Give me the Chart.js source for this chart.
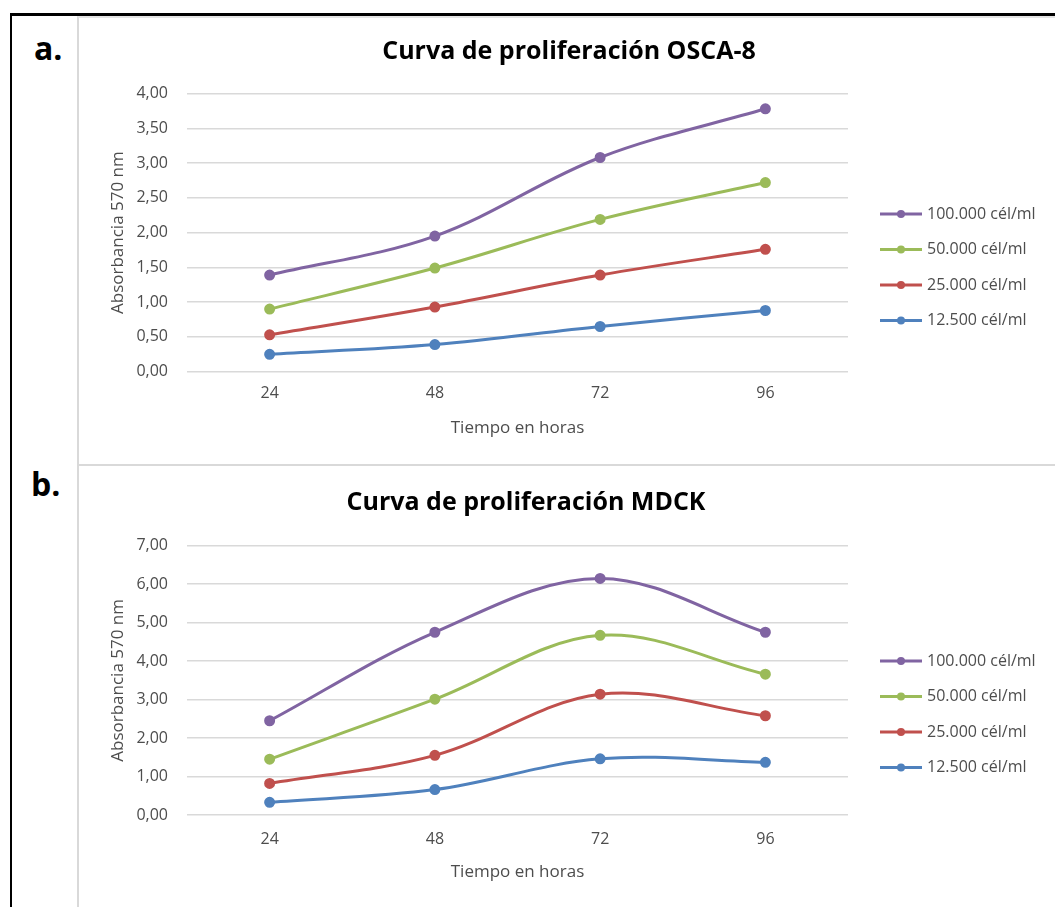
<!DOCTYPE html>
<html>
<head>
<meta charset="utf-8">
<script src="https://cdn.jsdelivr.net/npm/chart.js@4.4.0/dist/chart.umd.min.js"></script>
<style>
  html, body { margin:0; padding:0; background:#fff; }
  body { width:1055px; height:907px; position:relative; overflow:hidden; font-family: "Open Sans", sans-serif; }
  #frame { position:absolute; left:10px; top:13px; width:1100px; height:1000px; border-left:2px solid #000; border-top:3px solid #000; }
  #inner { position:absolute; left:77px; top:16px; width:1000px; height:1000px; border-left:2px solid #d9d9d9; border-top:2px solid #e4e4e4; }
  #sep { position:absolute; left:77px; top:464px; width:1000px; height:0; border-top:2px solid #d9d9d9; }
  .lbl { position:absolute; font-weight:bold; font-size:32px; color:#000; line-height:normal; }
  .box { position:absolute; left:79px; width:976px; }
  #boxA { top:18px; height:446px; }
  #boxB { top:466px; height:441px; }
</style>
</head>
<body>
<div id="frame"></div>
<div id="inner"></div>
<div id="sep"></div>
<div class="lbl" style="left:34px; top:26px;">a.</div>
<div class="lbl" style="left:31px; top:462px;">b.</div>
<div class="box" id="boxA"><canvas id="graphicFirst"></canvas></div>
<div class="box" id="boxB"><canvas id="graphicSecond"></canvas></div>
<script>
// Curvas de proliferacion - absorbancia 570 nm

const horas = ['24', '48', '72', '96'];
const series = ['100.000 cél/ml', '50.000 cél/ml', '25.000 cél/ml', '12.500 cél/ml'];
const colores = ['#8064A2', '#9BBB59', '#C0504D', '#4F81BD'];

// OSCA-8
const osca100 = [1.39, 1.95, 3.08, 3.78];
const osca50  = [0.90, 1.49, 2.19, 2.72];
const osca25  = [0.53, 0.93, 1.39, 1.76];
const osca12  = [0.25, 0.39, 0.65, 0.88];

// MDCK
const mdck100 = [2.45, 4.75, 6.15, 4.75];
const mdck50  = [1.45, 3.01, 4.67, 3.66];
const mdck25  = [0.82, 1.55, 3.14, 2.58];
const mdck12  = [0.33, 0.66, 1.46, 1.37];

const FONT = '"Open Sans", sans-serif';
const GRIS = '#4d4d4d';

function buildDatasets(valores){
  return valores.map(function(v, i){
    return {
      label: series[i],
      data: v,
      borderColor: colores[i],
      backgroundColor: colores[i],
      borderWidth: 3,
      pointRadius: 4,
      pointHoverRadius: 4,
      tension: 0.35,
      fill: false
    };
  });
}

// titulo y leyenda a la derecha (linea con punto como en Excel)
const excelPlugin = {
  id: 'excelLegend',
  afterDraw(chart, args, opts){
    const ctx = chart.ctx;
    ctx.save();
    ctx.fillStyle = '#000';
    ctx.font = 'bold 25px ' + FONT;
    ctx.textAlign = 'center';
    ctx.textBaseline = 'middle';
    ctx.fillText(opts.title, opts.titleX, opts.titleY);

    ctx.textAlign = 'left';
    chart.data.datasets.forEach(function(ds, i){
      const y = opts.top + i * opts.step;
      ctx.strokeStyle = ds.borderColor;
      ctx.lineWidth = 3;
      ctx.beginPath();
      ctx.moveTo(opts.left, y);
      ctx.lineTo(opts.left + 42, y);
      ctx.stroke();
      ctx.fillStyle = ds.borderColor;
      ctx.beginPath();
      ctx.arc(opts.left + 21, y, 4, 0, Math.PI * 2);
      ctx.fill();
      ctx.fillStyle = GRIS;
      ctx.font = '16px ' + FONT;
      ctx.fillText(ds.label, opts.left + 47, y);
    });
    ctx.restore();
  }
};

function drawElement(id, titulo, valores, yMax, step, lay){
  const ctx = document.getElementById(id).getContext('2d');
  return new Chart(ctx, {
    type: 'line',
    data: { labels: horas, datasets: buildDatasets(valores) },
    plugins: [excelPlugin],
    options: {
      responsive: true,
      maintainAspectRatio: false,
      animation: false,
      layout: { padding: { left: 0, right: 207, top: lay.top, bottom: 0 } },
      plugins: {
        legend: { display: false },
        tooltip: { enabled: false },
        excelLegend: { title: titulo, titleX: lay.titleX, titleY: lay.titleY, left: 801, top: lay.legendTop, step: 35.5 }
      },
      scales: {
        x: {
          offset: true,
          grid: { display: false, drawTicks: false },
          border: { display: false },
          ticks: { color: GRIS, font: { family: FONT, size: 16 }, padding: lay.tickPad },
          title: { display: true, text: 'Tiempo en horas', color: GRIS, font: { family: FONT, size: 17 }, padding: { top: 0, bottom: lay.xTitlePad } },
          afterFit: function(s){ s.height = lay.xHeight; }
        },
        y: {
          min: 0,
          max: yMax,
          grid: { color: '#d9d9d9', lineWidth: 1.5, drawTicks: false },
          border: { display: false },
          ticks: {
            stepSize: step,
            color: GRIS,
            font: { family: FONT, size: 16 },
            padding: 19,
            callback: function(v){ return v.toFixed(2).replace('.', ','); }
          },
          title: { display: true, text: 'Absorbancia 570 nm', color: GRIS, font: { family: FONT, size: 17 }, padding: { top: 29, bottom: 0 } },
          afterFit: function(s){ s.width = 108; }
        }
      }
    }
  });
}

drawElement('graphicFirst', 'Curva de proliferación OSCA-8',
  [osca100, osca50, osca25, osca12], 4, 0.5,
  { top: 75.5, xHeight: 92.3, tickPad: 12, xTitlePad: 26, titleX: 490, titleY: 34, legendTop: 196 });

drawElement('graphicSecond', 'Curva de proliferación MDCK',
  [mdck100, mdck50, mdck25, mdck12], 7, 1,
  { top: 79.7, xHeight: 92, tickPad: 15, xTitlePad: 25, titleX: 447, titleY: 37, legendTop: 195 });
</script>
</body>
</html>
